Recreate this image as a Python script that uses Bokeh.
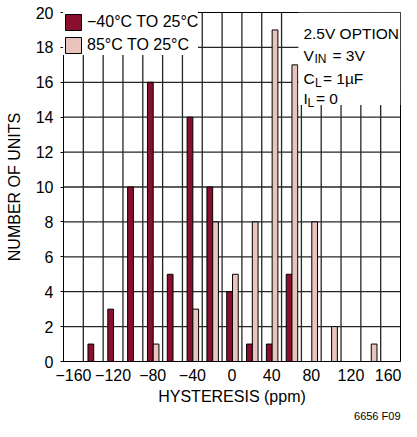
from bokeh.plotting import figure
from bokeh.models import (FixedTicker, Legend, LegendItem, BoxAnnotation, Label,
                          Range1d, ColumnDataSource, Title)
from bokeh.embed import file_html
from bokeh.resources import INLINE

# ---- data ----
bins = [-160, -140, -120, -100, -80, -60, -40, -20, 0, 20, 40, 60, 80, 100, 120, 140, 160]
cold_counts = [0, 1, 3, 10, 16, 5, 14, 10, 4, 1, 1, 5, 0, 0, 0, 0, 0]   # -40°C TO 25°C
hot_counts = [0, 0, 0, 0, 1, 0, 3, 8, 5, 8, 19, 17, 8, 2, 0, 1, 0]      # 85°C TO 25°C
series_labels = ["\u221240\u00b0C TO 25\u00b0C", "85\u00b0C TO 25\u00b0C"]
x_tick_values = [-160, -120, -80, -40, 0, 40, 80, 120, 160]
x_tick_labels = ["\u2212160", "\u2212120", "\u221280", "\u221240", "0", "40", "80", "120", "160"]
y_tick_values = [0, 2, 4, 6, 8, 10, 12, 14, 16, 18, 20]

FONT = "Liberation Sans"
DARK = "#8a0f2e"
LIGHT = "#e9c4bd"
GRID = "#262626"
BIN_W = 20
X_MIN = bins[0] - BIN_W / 2
X_MAX = bins[-1] + BIN_W / 2
Y_MIN, Y_MAX = y_tick_values[0], y_tick_values[-1]

def nz(xs, ys, shift):
    pts = [(x + shift, y) for x, y in zip(xs, ys) if y > 0]
    return dict(x=[q[0] for q in pts], top=[q[1] for q in pts])

src_cold = ColumnDataSource(nz(bins, cold_counts, -2.4))
src_hot = ColumnDataSource(nz(bins, hot_counts, 3.4))

p = figure(width=401, height=421,
           x_range=Range1d(X_MIN, X_MAX), y_range=Range1d(Y_MIN, Y_MAX),
           output_backend="svg", toolbar_location=None,
           min_border_left=63, min_border_right=1, min_border_top=12, min_border_bottom=10)
p.outline_line_color = "black"
p.outline_line_width = 1
p.xgrid.visible = False
p.ygrid.visible = False

# grid lines: vertical at bin edges, horizontal at every y tick
edges = [b + BIN_W / 2 for b in bins[:-1]]
p.segment(x0=edges, y0=[Y_MIN] * len(edges), x1=edges, y1=[Y_MAX] * len(edges),
          line_color=GRID, line_width=1.3)
inner_y = y_tick_values[1:-1]
p.segment(x0=[X_MIN] * len(inner_y), y0=inner_y, x1=[X_MAX] * len(inner_y), y1=inner_y,
          line_color=GRID, line_width=1.3)

r1 = p.vbar(x="x", top="top", width=5.8, bottom=0, source=src_cold,
            fill_color=DARK, line_color="black", line_width=1)
r2 = p.vbar(x="x", top="top", width=5.8, bottom=0, source=src_hot,
            fill_color=LIGHT, line_color="black", line_width=1)

# x axis
xa = p.xaxis[0]
xa.ticker = FixedTicker(ticks=x_tick_values)
xa.major_label_overrides = {v: t for v, t in zip(x_tick_values, x_tick_labels)}
xa.major_tick_out = 0
xa.major_tick_in = 0
xa.minor_tick_out = 0
xa.minor_tick_in = 0
xa.major_label_standoff = 7
xa.axis_label = "HYSTERESIS (ppm)"
xa.axis_label_standoff = 4

# y axis
ya = p.yaxis[0]
ya.ticker = FixedTicker(ticks=y_tick_values)
ya.major_tick_out = 3
ya.major_tick_in = 0
ya.minor_tick_out = 0
ya.minor_tick_in = 0
ya.major_label_standoff = 7
ya.axis_label = "NUMBER OF UNITS"
ya.axis_label_standoff = 10

for a in (xa, ya):
    a.axis_line_color = "black"
    a.axis_line_width = 1
    a.major_tick_line_color = "black"
    a.major_label_text_font = FONT
    a.major_label_text_font_size = "16px"
    a.major_label_text_color = "black"
    a.axis_label_text_font = FONT
    a.axis_label_text_font_size = "16px"
    a.axis_label_text_font_style = "normal"
    a.axis_label_text_color = "black"

# figure note (bottom right)
p.add_layout(Title(text="6656 F09", align="right", text_font=FONT,
                   text_font_size="11px", text_font_style="normal",
                   text_color="black", standoff=0, offset=0), "below")

# legend
legend = Legend(items=[LegendItem(label=series_labels[0], renderers=[r1]),
                       LegendItem(label=series_labels[1], renderers=[r2])],
                location="top_left", margin=0, padding=6, spacing=3,
                glyph_width=20, glyph_height=20, label_standoff=4,
                label_text_font=FONT, label_text_font_size="16px",
                label_text_color="black", label_height=20,
                background_fill_color="white", background_fill_alpha=1.0,
                border_line_color=None)
p.add_layout(legend)

# condition box (top right)
BOX_LEFT = 67
p.add_layout(BoxAnnotation(left=BOX_LEFT, right=X_MAX, bottom=14.7, top=Y_MAX,
                           fill_color="white", fill_alpha=1.0, line_color=None,
                           level="annotation"))

def lab(text, x_off, y, y_off=0, size="15.5px"):
    p.add_layout(Label(x=BOX_LEFT, y=y, x_offset=x_off, y_offset=y_off, text=text,
                       text_font=FONT, text_font_size=size, text_color="black",
                       text_baseline="alphabetic", text_align="left"))

X0 = 5
lab("2.5V OPTION", X0, 18.77)
lab("V", X0, 17.54)
lab("IN", X0 + 11, 17.54, -4, "12px")
lab("= 3V", X0 + 29, 17.54)
lab("C", X0, 16.21)
lab("L", X0 + 11.5, 16.21, -4, "12px")
lab("= 1\u00b5F", X0 + 19.5, 16.21)
lab("I", X0, 15.07)
lab("L", X0 + 4, 15.07, -4, "12px")
lab("= 0", X0 + 12.5, 15.07)

open("out.html", "w").write(file_html(p, INLINE))
